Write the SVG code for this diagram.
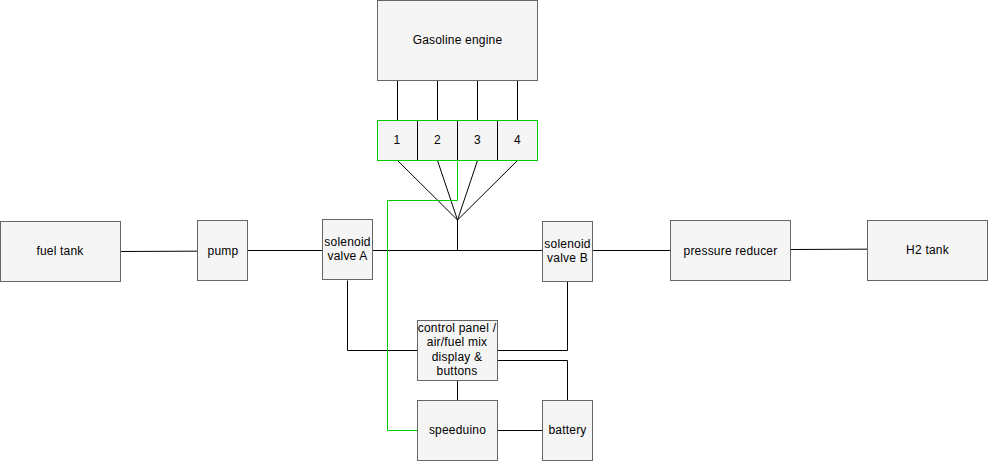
<svg xmlns="http://www.w3.org/2000/svg" width="989" height="461" viewBox="0 0 989 461">
<style>
rect{fill:#f5f5f5;stroke:#666;stroke-width:1}
text{font-family:"Liberation Sans",Arial,sans-serif;font-size:12px;letter-spacing:.2px;fill:#000;text-anchor:middle}
.c path{fill:none;stroke:#000;stroke-width:1}
.c path.g{stroke:#00cc00}
</style>
<g id="connectors" class="c">
<path d="M120.500 251.500L197.500 251.150"/>
<path d="M247.500 250.500H322.500"/>
<path d="M372.500 250.500H542.500"/>
<path d="M592.500 250.500H670.500"/>
<path d="M790.500 249.500L867.500 249.150"/>
<path d="M457.500 250.500V220"/>
<path d="M397.500 160.500L457.500 220L437.500 160.500M477.500 160.500L457.500 220L517.500 160.500"/>
<path d="M397.500 80.500V120.500M437.500 80.500V120.500M477.500 80.500V120.500M517.500 80.500V120.500"/>
<path d="M347.500 280.500V350.500H417.500"/>
<path d="M567.500 280.500V350.500H497.500"/>
<path d="M497.500 360.500H567.500V400.500"/>
<path d="M457.500 380.500V400.500"/>
<path d="M497.500 430.500H542.500"/>
<path class="g" d="M417.500 430.500H387.500V200.500H457.500V160.500"/>
</g>
<g id="fuel-tank"><rect x="0.500" y="221.500" width="120" height="60"/><text x="60" y="255">fuel tank</text></g>
<g id="pump"><rect x="197.500" y="220.500" width="50" height="60"/><text x="223" y="255">pump</text></g>
<g id="solenoid-a"><rect x="322.500" y="219.500" width="50" height="60"/><text x="347.500" y="246">solenoid</text><text x="347.500" y="260">valve A</text></g>
<g id="solenoid-b"><rect x="542.500" y="221.500" width="50" height="60"/><text x="567.500" y="248">solenoid</text><text x="567.500" y="262">valve B</text></g>
<g id="pressure-reducer"><rect x="670.500" y="220.500" width="120" height="60"/><text x="730.500" y="255">pressure reducer</text></g>
<g id="h2-tank"><rect x="867.500" y="220.500" width="120" height="60"/><text x="927.500" y="254">H2 tank</text></g>
<g id="engine"><rect x="377.500" y="0.500" width="160" height="80"/><text x="457.500" y="44">Gasoline engine</text></g>
<g id="cyl-1"><rect x="377.500" y="120.500" width="40" height="40"/><text x="397" y="144">1</text></g>
<g id="cyl-2"><rect x="417.500" y="120.500" width="40" height="40"/><text x="437.500" y="144">2</text></g>
<g id="cyl-3"><rect x="457.500" y="120.500" width="40" height="40"/><text x="477.500" y="144">3</text></g>
<g id="cyl-4"><rect x="497.500" y="120.500" width="40" height="40"/><text x="517.500" y="144">4</text></g>
<g id="control-panel"><rect x="417.500" y="320.500" width="80" height="60"/><text x="457" y="332">control panel /</text><text x="457" y="346">air/fuel mix</text><text x="457" y="361">display &amp;</text><text x="457" y="375">buttons</text></g>
<g id="speeduino"><rect x="417.500" y="400.500" width="80" height="60"/><text x="457.500" y="434">speeduino</text></g>
<g id="battery"><rect x="542.500" y="400.500" width="50" height="60"/><text x="567.500" y="434">battery</text></g>
<g id="cyl-outline"><path d="M377.500 120.500H537.500V160.500H377.500Z" fill="none" stroke="#00cc00"/><path d="M417.500 121V160M457.500 121V160M497.500 121V160" stroke="#000" fill="none"/></g>
</svg>
